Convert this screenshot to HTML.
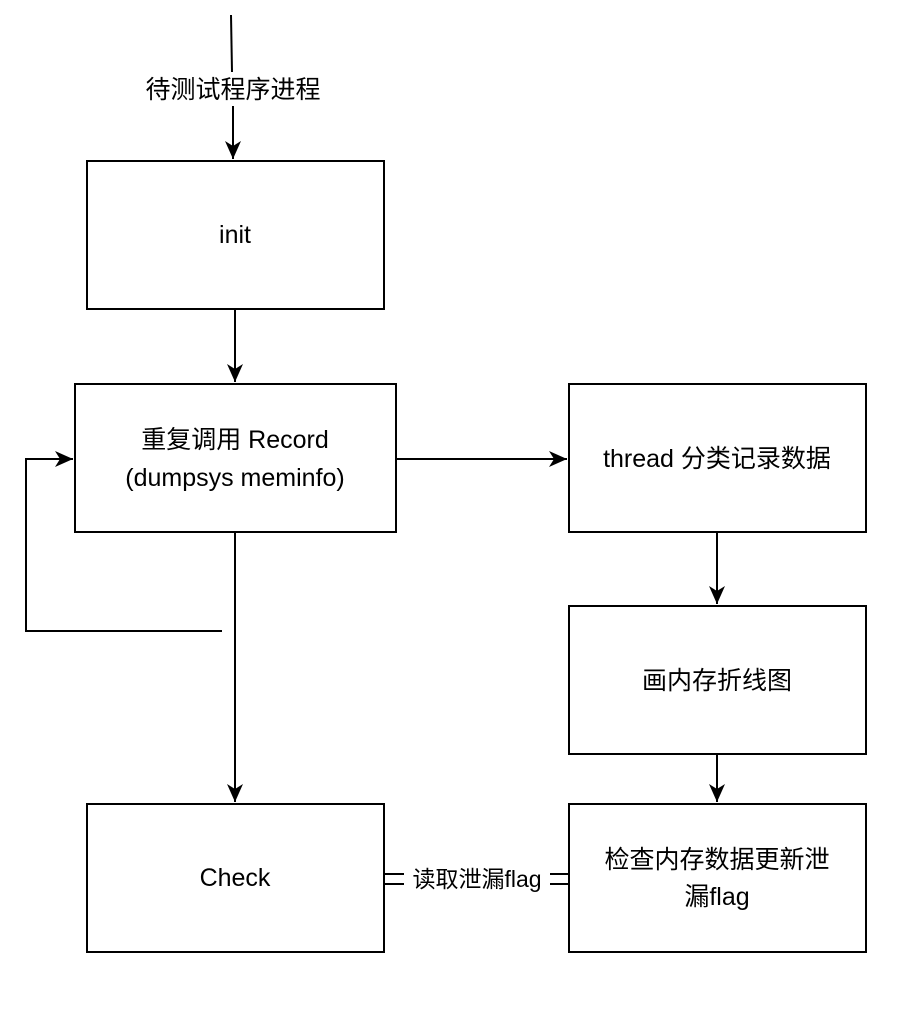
<!DOCTYPE html>
<html><head><meta charset="utf-8"><style>
html,body{margin:0;padding:0;background:#fff;}
svg text{font-family:"Liberation Sans","Noto Sans CJK SC",sans-serif;font-size:25px;fill:#000;}
</style></head><body>
<svg width="907" height="1011" viewBox="0 0 907 1011" xmlns="http://www.w3.org/2000/svg">
<defs><marker id="a" markerWidth="10" markerHeight="10" refX="9" refY="5" orient="auto" markerUnits="userSpaceOnUse"><path d="M0,0 L10,5 L0,10 L3,5 z" fill="#000"/></marker>
<marker id="b" markerWidth="20" markerHeight="20" refX="18" refY="10" orient="auto" markerUnits="userSpaceOnUse"><path d="M0,2 L18,10 L0,18 L5,10 z" fill="#000"/></marker></defs>
<g stroke="#000" stroke-width="2" fill="none">
<rect x="87" y="161" width="297" height="148"/>
<rect x="75" y="384" width="321" height="148"/>
<rect x="569" y="384" width="297" height="148"/>
<rect x="569" y="606" width="297" height="148"/>
<rect x="569" y="804" width="297" height="148"/>
<rect x="87" y="804" width="297" height="148"/>
<line x1="231" y1="15" x2="232" y2="72"/>
<line x1="233" y1="106" x2="233" y2="159" marker-end="url(#b)"/>
<line x1="235" y1="310" x2="235" y2="382" marker-end="url(#b)"/>
<line x1="235" y1="532" x2="235" y2="802" marker-end="url(#b)"/>
<polyline points="222,631 26,631 26,459 73,459" marker-end="url(#b)"/>
<line x1="396" y1="459" x2="567" y2="459" marker-end="url(#b)"/>
<line x1="717" y1="532" x2="717" y2="604" marker-end="url(#b)"/>
<line x1="717" y1="754" x2="717" y2="802" marker-end="url(#b)"/>
<line x1="384" y1="874" x2="404" y2="874"/><line x1="384" y1="884" x2="404" y2="884"/>
<line x1="550" y1="874" x2="569" y2="874"/><line x1="550" y1="884" x2="569" y2="884"/>
</g>
<text x="233" y="98" text-anchor="middle">待测试程序进程</text>
<text x="235" y="243" text-anchor="middle">init</text>
<text x="235" y="448" text-anchor="middle">重复调用 Record</text>
<text x="235" y="486" text-anchor="middle">(dumpsys meminfo)</text>
<text x="717" y="467" text-anchor="middle">thread 分类记录数据</text>
<text x="717" y="689" text-anchor="middle">画内存折线图</text>
<text x="717" y="868" text-anchor="middle">检查内存数据更新泄</text>
<text x="717" y="905" text-anchor="middle">漏flag</text>
<text x="235" y="886" text-anchor="middle">Check</text>
<text x="477" y="887" text-anchor="middle" style="font-size:23px">读取泄漏flag</text>
</svg>
</body></html>
